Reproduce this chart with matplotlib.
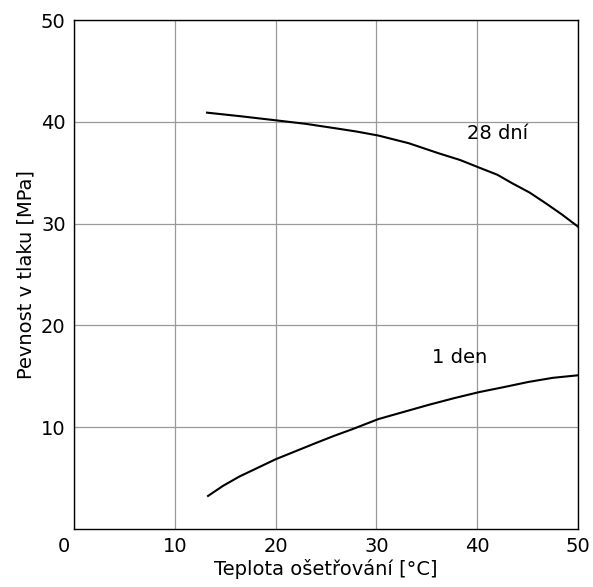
import matplotlib
matplotlib.use("Agg")
import matplotlib.pyplot as plt
import matplotlib.transforms as mtransforms

# values
temp_28 = [13.2, 16.5, 20, 23, 25.7, 28, 30.2, 33.2, 36.2, 38.3, 40.2, 42.0, 43.5, 45.2, 46.8, 48.4, 50]
str_28 = [40.9, 40.55, 40.15, 39.8, 39.4, 39.05, 38.65, 37.9, 36.9, 36.25, 35.5, 34.8, 33.95, 33.05, 32.0, 30.9, 29.7]
temp_1 = [13.3, 14.8, 16.4, 18.2, 20, 22, 24, 25.8, 27.6, 30.2, 32.7, 35.2, 37.7, 40.2, 42.7, 45.1, 47.5, 50]
str_1 = [3.25, 4.25, 5.15, 6.0, 6.85, 7.65, 8.45, 9.15, 9.8, 10.8, 11.5, 12.2, 12.85, 13.45, 13.95, 14.45, 14.85, 15.1]

xticks = [0, 10, 20, 30, 40, 50]
yticks = [10, 20, 30, 40, 50]

plt.rcParams['font.family'] = ['DejaVu Sans']
fig = plt.figure(figsize=(5.93, 5.87), dpi=100)
ax = fig.add_axes([0.1248, 0.0988, 0.8499, 0.8671])

ax.plot(temp_28, str_28, color='black', lw=1.5, solid_joinstyle='round')
ax.plot(temp_1, str_1, color='black', lw=1.5, solid_joinstyle='round')

ax.text(39.0, 38.9, '28 dní', fontsize=14, va='center', ha='left')
ax.text(35.5, 16.8, '1 den', fontsize=14, va='center', ha='left')

ax.set_xlim(0, 50)
ax.set_ylim(0, 50)
ax.set_xticks(xticks)
ax.set_yticks(yticks)
ax.tick_params(labelsize=14, length=0, pad=6)
ax.grid(True, color='#999999', lw=0.9)
ax.set_axisbelow(True)
for s in ax.spines.values():
    s.set_linewidth(1.0)

ax.set_xlabel('Teplota ošetřování [°C]', fontsize=14, labelpad=2)
ax.set_ylabel('Pevnost v tlaku [MPa]', fontsize=14, labelpad=4)

# the "0" sits left of the corner
lbl0 = ax.get_xticklabels()[0]
lbl0.set_transform(lbl0.get_transform() + mtransforms.ScaledTranslation(-0.1, 0, fig.dpi_scale_trans))

fig.savefig('out.png', dpi=100)
